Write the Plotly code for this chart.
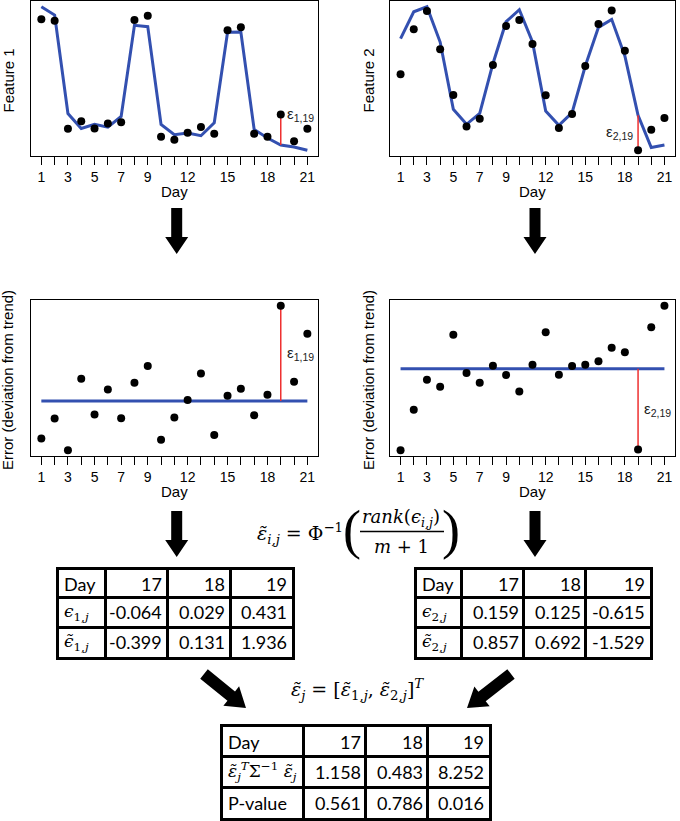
import math
import plotly.graph_objects as go

W, H = 680, 821

# ---------------- data ----------------
days = list(range(1, 22))
tick_labels = ["1", "", "3", "", "5", "", "7", "", "9", "", "", "12", "", "",
               "15", "", "", "18", "", "", "21"]

feature1 = [1.928, 1.909, 0.384, 0.491, 0.388, 0.459, 0.477, 1.919, 1.980, 0.271, 0.229,
            0.328, 0.407, 0.314, 1.774, 1.816, 0.314, 0.271, 0.585, 0.206, 0.384]
trend1 = [2.106, 1.989, 0.599, 0.388, 0.445, 0.407, 0.557, 1.844, 1.825, 0.445, 0.300,
          0.323, 0.285, 0.468, 1.746, 1.750, 0.374, 0.253, 0.154, 0.126, 0.080]
feature2 = [1.436, 2.227, 2.549, 1.875, 1.072, 0.516, 0.656, 1.600, 2.285, 2.391, 1.969,
            1.067, 0.492, 0.738, 1.582, 2.321, 2.561, 1.852, 0.100, 0.463, 0.668]
trend2 = [2.063, 2.537, 2.625, 2.004, 0.820, 0.557, 0.750, 1.623, 2.362, 2.573, 2.004,
          0.791, 0.539, 0.762, 1.582, 2.262, 2.403, 1.758, 0.715, 0.147, 0.193]
error1 = [-0.169, -0.079, -0.222, 0.101, -0.060, 0.053, -0.077, 0.083, 0.159, -0.175, -0.074,
          0.005, 0.125, -0.153, 0.024, 0.056, -0.064, 0.029, 0.431, 0.088, 0.305]
error2 = [-0.620, -0.312, -0.084, -0.137, 0.257, -0.033, -0.107, 0.023, -0.048, -0.173, 0.030,
          0.277, -0.046, 0.020, 0.030, 0.056, 0.159, 0.125, -0.615, 0.315, 0.478]

table_days = [17, 18, 19]
eps1 = [-0.064, 0.029, 0.431]
eps1_t = [-0.399, 0.131, 1.936]
eps2 = [0.159, 0.125, -0.615]
eps2_t = [0.857, 0.692, -1.529]
stat = [1.158, 0.483, 8.252]
pval = [0.561, 0.786, 0.016]

HL_DAY = 19

BLUE = "#3350B0"
RED = "#EE3030"
SANS = "Liberation Sans, Arial, sans-serif"
CAL = "Lato, sans-serif"
MATH = "DejaVu Serif, serif"
PAREN = "Liberation Serif, serif"


def px(x):
    return x / W


def py(y):
    return min(1.0, max(0.0, 1 - y / H))


fig = go.Figure()

panels = [
    dict(n=1, box=(30.7, 318, 1, 156), pts=feature1, line=trend1, kind="feat",
         title="Feature 1", tx=8, lab=("left", 1)),
    dict(n=2, box=(390, 675, 1, 156), pts=feature2, line=trend2, kind="feat",
         title="Feature 2", tx=368, lab=("right", 2)),
    dict(n=3, box=(30.7, 318, 300, 456), pts=error1, line=None, kind="err",
         title="Error (deviation from trend)", tx=8, lab=("left", 1)),
    dict(n=4, box=(390, 675, 300, 456), pts=error2, line=None, kind="err",
         title="Error (deviation from trend)", tx=369, lab=("left", 2)),
]

layout_axes = {}
annotations = []
shapes = []

for p in panels:
    n = p["n"]
    x0, x1, y0, y1 = p["box"]
    xa = "x" if n == 1 else f"x{n}"
    ya = "y" if n == 1 else f"y{n}"
    if p["kind"] == "feat":
        allv = p["pts"] + p["line"]
        line_x, line_y = days, p["line"]
        base = p["line"][HL_DAY - 1]
    else:
        allv = p["pts"] + [0]
        line_x, line_y = [days[0], days[-1]], [0, 0]
        base = 0
    lo, hi = min(allv), max(allv)
    pad = 0.04 * (hi - lo)
    top = p["pts"][HL_DAY - 1]

    fig.add_trace(go.Scatter(x=line_x, y=line_y, mode="lines",
                             line=dict(color=BLUE, width=3), xaxis=xa, yaxis=ya,
                             showlegend=False, hoverinfo="skip"))
    fig.add_trace(go.Scatter(x=[HL_DAY, HL_DAY], y=[base, top], mode="lines",
                             line=dict(color=RED, width=1.5), xaxis=xa, yaxis=ya,
                             showlegend=False, hoverinfo="skip"))
    fig.add_trace(go.Scatter(x=days, y=p["pts"], mode="markers",
                             marker=dict(color="black", size=8), xaxis=xa, yaxis=ya,
                             showlegend=False))

    xkey = "xaxis" if n == 1 else f"xaxis{n}"
    ykey = "yaxis" if n == 1 else f"yaxis{n}"
    layout_axes[xkey] = dict(
        domain=[px(x0), px(x1)], range=[0.2, 21.8], anchor=ya,
        tickmode="array", tickvals=days, ticktext=tick_labels,
        ticks="outside", ticklen=8, tickwidth=1, tickcolor="black",
        showline=True, linecolor="black", linewidth=1.3, mirror=True,
        showgrid=False, zeroline=False,
        tickfont=dict(family=SANS, size=14, color="black"),
    )
    layout_axes[ykey] = dict(
        domain=[py(y1), py(y0)], range=[lo - pad, hi + pad], anchor=xa,
        showticklabels=False, ticks="", showline=True, linecolor="black",
        linewidth=1.3, mirror=True, showgrid=False, zeroline=False,
    )

    annotations.append(dict(x=px((x0 + x1) / 2), y=py(y1 + 35), xref="paper", yref="paper",
                            text="Day", showarrow=False, xanchor="center", yanchor="middle",
                            font=dict(family=SANS, size=15, color="black")))
    annotations.append(dict(x=px(p["tx"]), y=py((y0 + y1) / 2 + 2), xref="paper", yref="paper",
                            text=p["title"], textangle=-90, showarrow=False,
                            xanchor="center", yanchor="middle",
                            font=dict(family=SANS, size=15, color="black")))

    side, idx = p["lab"]
    if p["kind"] == "feat" and side == "left":
        ly = top
    else:
        ly = (top + base) / 2
    annotations.append(dict(
        x=HL_DAY, y=ly, xref=xa, yref=ya, showarrow=False,
        text=f"ε<sub>{idx},{HL_DAY}</sub>",
        xanchor="left" if side == "left" else "right",
        xshift=4 if side == "left" else -3, yanchor="middle",
        font=dict(family=SANS, size=15, color="#222222")))


# ---------------- arrows ----------------
def arrow_path(x0, y0, x1, y1, sw=11, hw=23, hl=17):
    dx, dy = x1 - x0, y1 - y0
    L = math.hypot(dx, dy)
    ux, uy = dx / L, dy / L
    nx, ny = -uy, ux
    bx, by = x1 - ux * hl, y1 - uy * hl
    pts = [
        (x0 + nx * sw / 2, y0 + ny * sw / 2),
        (bx + nx * sw / 2, by + ny * sw / 2),
        (bx + nx * hw / 2, by + ny * hw / 2),
        (x1, y1),
        (bx - nx * hw / 2, by - ny * hw / 2),
        (bx - nx * sw / 2, by - ny * sw / 2),
        (x0 - nx * sw / 2, y0 - ny * sw / 2),
    ]
    return "M " + " L ".join(f"{a / W:.5f},{1 - b / H:.5f}" for a, b in pts) + " Z"


arrow_specs = [((176.7, 208, 176.7, 254), (11, 23, 17)),
               ((535, 208, 535, 254), (11, 23, 17)),
               ((176.7, 511, 176.7, 557), (11, 23, 17)),
               ((535, 511, 535, 557), (11, 23, 17)),
               ((204, 674, 246, 708), (12, 25, 19)),
               ((511, 674, 467, 708), (12, 25, 19))]
for (ax0, ay0, ax1, ay1), (sw, hw, hl) in arrow_specs:
    shapes.append(dict(type="path", path=arrow_path(ax0, ay0, ax1, ay1, sw, hw, hl),
                       xref="paper", yref="paper", fillcolor="black", line=dict(width=0)))

# ---------------- formulas ----------------
EPS_T = "\u03b5\u0303"
LUN = "\u03f5"
LUN_T = "\u03f5\u0303"
annotations += [
    dict(x=px(255), y=py(533), xref="paper", yref="paper", showarrow=False,
         xanchor="left", yanchor="middle",
         text=f"<i>{EPS_T}</i><sub><i>i,j</i></sub> = Φ<sup>−1</sup>",
         font=dict(family=MATH, size=19, color="black")),
    dict(x=px(352), y=py(530), xref="paper", yref="paper", showarrow=False,
         xanchor="center", yanchor="middle", text="(",
         font=dict(family=PAREN, size=54, color="black")),
    dict(x=px(401), y=py(518), xref="paper", yref="paper", showarrow=False,
         xanchor="center", yanchor="middle",
         text=f"<i>rank</i>(<i>{LUN}</i><sub><i>i,j</i></sub>)",
         font=dict(family=MATH, size=18, color="black")),
    dict(x=px(401), y=py(546), xref="paper", yref="paper", showarrow=False,
         xanchor="center", yanchor="middle", text="<i>m</i> + 1",
         font=dict(family=MATH, size=18, color="black")),
    dict(x=px(451), y=py(530), xref="paper", yref="paper", showarrow=False,
         xanchor="center", yanchor="middle", text=")",
         font=dict(family=PAREN, size=54, color="black")),
    dict(x=px(357), y=py(689), xref="paper", yref="paper", showarrow=False,
         xanchor="center", yanchor="middle",
         text=(f"<i>{EPS_T}</i><sub><i>j</i></sub> = [<i>{EPS_T}</i><sub>1,<i>j</i></sub>, "
               f"<i>{EPS_T}</i><sub>2,<i>j</i></sub>]<sup><i>T</i></sup>"),
         font=dict(family=MATH, size=19, color="black")),
]
shapes.append(dict(type="line", x0=px(360), x1=px(444), y0=py(531.5), y1=py(531.5),
                   xref="paper", yref="paper", line=dict(color="black", width=1.3)))


# ---------------- tables (one axis pair per table, cells on a pixel scale) ----------------
def fmt(vals):
    return [f"{v:.3f}" for v in vals]


def add_table(n, x0, ytop, colw, rowh, labels, label_fonts, rows):
    xa, ya = f"x{n}", f"y{n}"
    tw, th = sum(colw), sum(rowh)
    xb = [sum(colw[:i]) for i in range(len(colw) + 1)]
    yb = [sum(rowh[:i]) for i in range(len(rowh) + 1)]
    common = dict(showline=True, linecolor="black", linewidth=3, mirror=True,
                  showgrid=True, gridcolor="black", gridwidth=3, zeroline=False,
                  showticklabels=False, ticks="", tickmode="array", fixedrange=True)
    layout_axes[f"xaxis{n}"] = dict(domain=[px(x0), px(x0 + tw)], range=[0, tw],
                                    anchor=ya, tickvals=xb[1:-1], **common)
    layout_axes[f"yaxis{n}"] = dict(domain=[py(ytop + th), py(ytop)], range=[th, 0],
                                    anchor=xa, tickvals=yb[1:-1], **common)
    table_rows = [("Day", CAL, [str(d) for d in table_days])]
    for lab, fam, r in zip(labels, label_fonts, rows):
        table_rows.append((lab, fam, fmt(r)))
    for ri, (lab, fam, vals) in enumerate(table_rows):
        yc = (yb[ri] + yb[ri + 1]) / 2
        annotations.append(dict(x=xb[0] + 3, y=yc, xref=xa, yref=ya, showarrow=False,
                                xanchor="left", yanchor="middle", text=lab,
                                font=dict(family=fam, size=18 if fam == CAL else 17,
                                          color="black")))
        for ci, v in enumerate(vals):
            annotations.append(dict(x=xb[ci + 2] - 3, y=yc, xref=xa, yref=ya,
                                    showarrow=False, xanchor="right", yanchor="middle",
                                    text=v, font=dict(family=CAL, size=18, color="black")))
    fig.add_trace(go.Scatter(x=[0], y=[0], xaxis=xa, yaxis=ya, mode="markers",
                             marker=dict(opacity=0), showlegend=False, hoverinfo="skip"))


lab1 = [f"<i>{LUN}</i><sub>1,<i>j</i></sub>", f"<i>{LUN_T}</i><sub>1,<i>j</i></sub>"]
lab2 = [f"<i>{LUN}</i><sub>2,<i>j</i></sub>", f"<i>{LUN_T}</i><sub>2,<i>j</i></sub>"]
lab3 = [f"<i>{EPS_T}</i><sub><i>j</i></sub><sup><i>T</i></sup>Σ<sup>−1</sup> "
        f"<i>{EPS_T}</i><sub><i>j</i></sub>", "P-value"]

add_table(5, 59.3, 570, [46, 62, 63, 62], [27, 30, 30], lab1, [MATH, MATH], [eps1, eps1_t])
add_table(6, 416.7, 570, [45, 62, 62, 64], [27, 30, 30], lab2, [MATH, MATH], [eps2, eps2_t])
add_table(7, 222.7, 727.3, [81, 62, 62, 61], [29, 31, 31], lab3, [MATH, CAL], [stat, pval])

fig.update_layout(
    width=W, height=H, margin=dict(l=0, r=0, t=0, b=0),
    paper_bgcolor="white", plot_bgcolor="white",
    showlegend=False, annotations=annotations, shapes=shapes,
    **layout_axes,
)

fig.write_html("out.html", config={"displayModeBar": False},
               post_script="document.body.style.margin='0';")
